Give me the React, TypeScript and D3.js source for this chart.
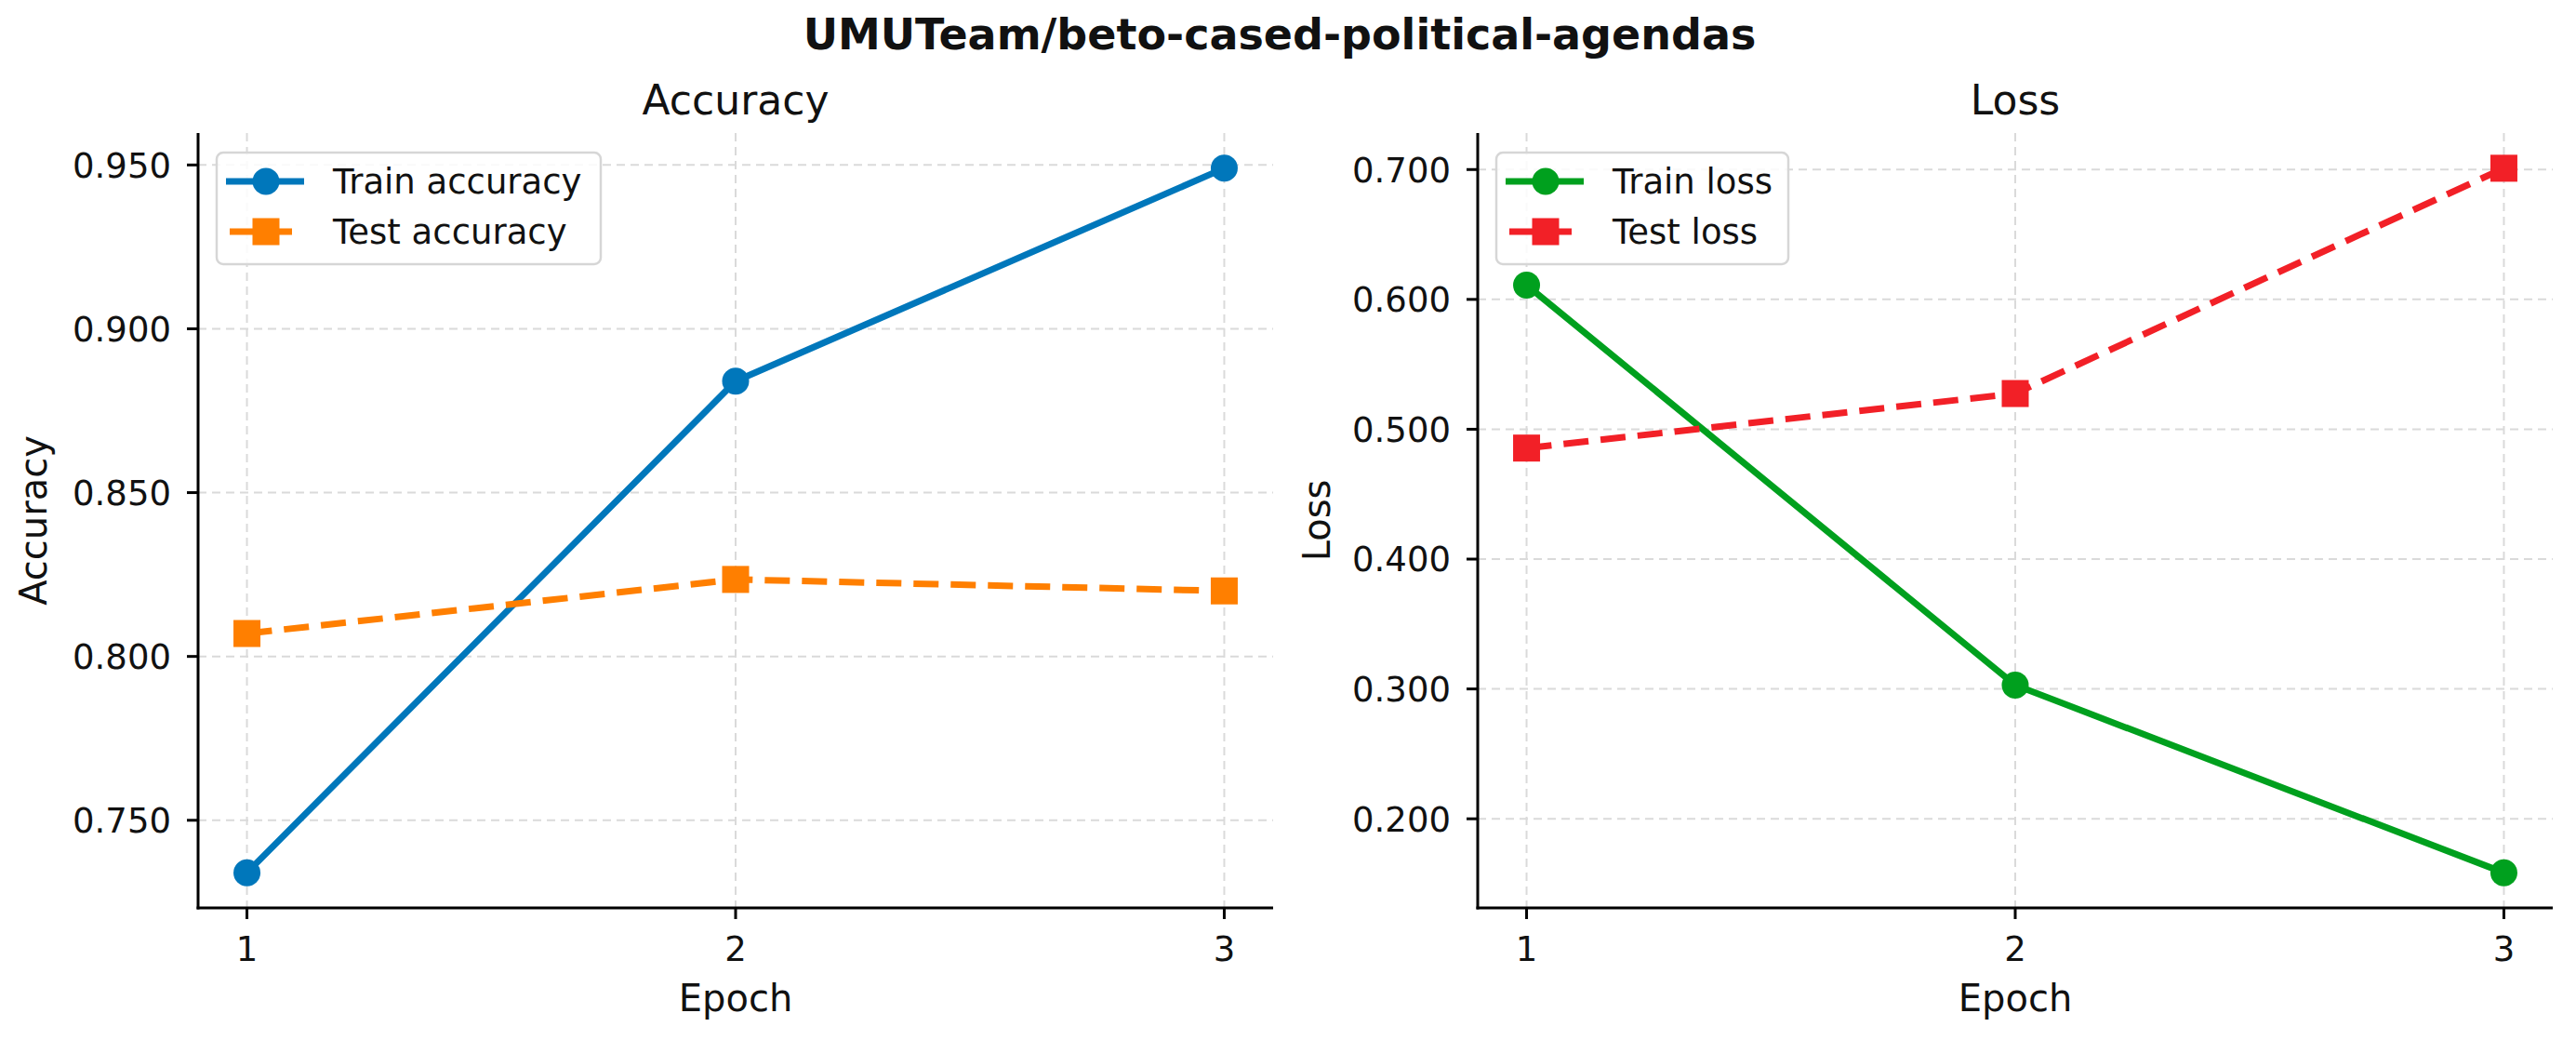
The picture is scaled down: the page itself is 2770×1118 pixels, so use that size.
import * as React from "react";
import * as d3 from "d3";

const epochs = [1, 2, 3];
const trainAcc = [0.734, 0.884, 0.949];
const testAcc = [0.807, 0.8235, 0.82];
const trainLoss = [0.611, 0.303, 0.1585];
const testLoss = [0.4855, 0.5275, 0.701];
const accTicks = [0.75, 0.8, 0.85, 0.9, 0.95];
const lossTicks = [0.2, 0.3, 0.4, 0.5, 0.6, 0.7];

const FONT = "DejaVu Sans, Verdana, sans-serif";
const W = 2770;
const H = 1118;
const top = 143;
const bottom = 976;
const LW = 7;
const DASH = "27,13";

// padded extent, like matplotlib's 5% margins
function padded(vals: number[]): [number, number] {
  const [lo, hi] = d3.extent(vals) as [number, number];
  const m = (hi - lo) * 0.05;
  return [lo - m, hi + m];
}

function Panel(props: any) {
  const { x0, x1, title, ylabel, ylabelX, ticks, series, legendW } = props;
  const x = d3.scaleLinear().domain([0.9, 3.1]).range([x0, x1]);
  const all = d3.merge(series.map((s: any) => s.values)) as number[];
  const y = d3.scaleLinear().domain(padded(all)).range([bottom, top]);
  const line = d3
    .line<number>()
    .x((d, i) => x(epochs[i]))
    .y(d => y(d));
  const fmt = d3.format(".3f");
  const gridStyle = { stroke: "#dadada", strokeWidth: 2, strokeDasharray: "9,6" };

  return (
    <g>
      {/* grid */}
      {epochs.map(e => (
        <line key={"gx" + e} x1={x(e)} x2={x(e)} y1={top} y2={bottom} {...gridStyle} />
      ))}
      {ticks.map((t: number) => (
        <line key={"gy" + t} x1={x0} x2={x1} y1={y(t)} y2={y(t)} {...gridStyle} />
      ))}

      {/* lines */}
      {series.map((s: any) => (
        <path
          key={s.name}
          d={line(s.values) as string}
          fill="none"
          stroke={s.color}
          strokeWidth={LW}
          strokeDasharray={s.dashed ? DASH : undefined}
        />
      ))}
      {series.map((s: any) =>
        s.values.map((v: number, i: number) =>
          s.marker === "circle" ? (
            <circle key={s.name + i} cx={x(epochs[i])} cy={y(v)} r={14.5} fill={s.color} />
          ) : (
            <rect key={s.name + i} x={x(epochs[i]) - 14.5} y={y(v) - 14.5} width={29} height={29} fill={s.color} />
          )
        )
      )}

      {/* axes */}
      <line x1={x0} x2={x0} y1={top} y2={bottom + 1.5} stroke="#000" strokeWidth={3} />
      <line x1={x0 - 1.5} x2={x1} y1={bottom} y2={bottom} stroke="#000" strokeWidth={3} />
      {ticks.map((t: number) => (
        <g key={"yt" + t}>
          <line x1={x0 - 12} x2={x0} y1={y(t)} y2={y(t)} stroke="#000" strokeWidth={3} />
          <text x={x0 - 29} y={y(t)} dy="0.36em" textAnchor="end" fontSize={37} fontFamily={FONT} fill="#111">
            {fmt(t)}
          </text>
        </g>
      ))}
      {epochs.map(e => (
        <g key={"xt" + e}>
          <line x1={x(e)} x2={x(e)} y1={bottom} y2={bottom + 12} stroke="#000" strokeWidth={3} />
          <text x={x(e)} y={1033} textAnchor="middle" fontSize={37} fontFamily={FONT} fill="#111">
            {e}
          </text>
        </g>
      ))}

      <text x={(x0 + x1) / 2} y={1087} textAnchor="middle" fontSize={40} fontFamily={FONT} fill="#111">
        Epoch
      </text>
      <text
        transform={`translate(${ylabelX},${(top + bottom) / 2}) rotate(-90)`}
        textAnchor="middle"
        fontSize={40}
        fontFamily={FONT}
        fill="#111"
      >
        {ylabel}
      </text>
      <text x={(x0 + x1) / 2} y={123} textAnchor="middle" fontSize={44} fontFamily={FONT} fill="#111">
        {title}
      </text>

      {/* legend */}
      <g transform={`translate(${x0 + 20},164)`}>
        <rect x={0} y={0} width={legendW} height={120} rx={7} fill="#fff" fillOpacity={0.85} stroke="#d6d6d6" strokeWidth={2.5} />
        {series.map((s: any, i: number) => {
          const cy = 31 + i * 54;
          return (
            <g key={"lg" + s.name}>
              <line
                x1={10}
                x2={94}
                y1={cy}
                y2={cy}
                stroke={s.color}
                strokeWidth={LW}
                strokeDasharray={s.dashed ? DASH : undefined}
                strokeDashoffset={s.dashed ? -4 : 0}
              />
              {s.marker === "circle" ? (
                <circle cx={53} cy={cy} r={14.5} fill={s.color} />
              ) : (
                <rect x={38.5} y={cy - 14.5} width={29} height={29} fill={s.color} />
              )}
              <text x={125} y={cy} dy="0.36em" fontSize={37} fontFamily={FONT} fill="#111">
                {s.name}
              </text>
            </g>
          );
        })}
      </g>
    </g>
  );
}

export default function App() {
  const accSeries = [
    { name: "Train accuracy", values: trainAcc, color: "#0077BB", marker: "circle", dashed: false },
    { name: "Test accuracy", values: testAcc, color: "#FF7F00", marker: "square", dashed: true },
  ];
  const lossSeries = [
    { name: "Train loss", values: trainLoss, color: "#00A01E", marker: "circle", dashed: false },
    { name: "Test loss", values: testLoss, color: "#F22027", marker: "square", dashed: true },
  ];
  return (
    <div style={{ position: "absolute", left: 0, top: 0 }}>
      <svg width={W} height={H} style={{ display: "block", background: "#fff" }}>
        <rect width={W} height={H} fill="#fff" />
        <text x={1376} y={53} textAnchor="middle" fontSize={46} fontWeight="bold" fontFamily={FONT} fill="#111">
          UMUTeam/beto-cased-political-agendas
        </text>
        <Panel
          x0={213}
          x1={1369}
          title="Accuracy"
          ylabel="Accuracy"
          ylabelX={50}
          ticks={accTicks}
          series={accSeries}
          legendW={413}
        />
        <Panel
          x0={1589}
          x1={2745}
          title="Loss"
          ylabel="Loss"
          ylabelX={1430}
          ticks={lossTicks}
          series={lossSeries}
          legendW={314}
        />
      </svg>
    </div>
  );
}
